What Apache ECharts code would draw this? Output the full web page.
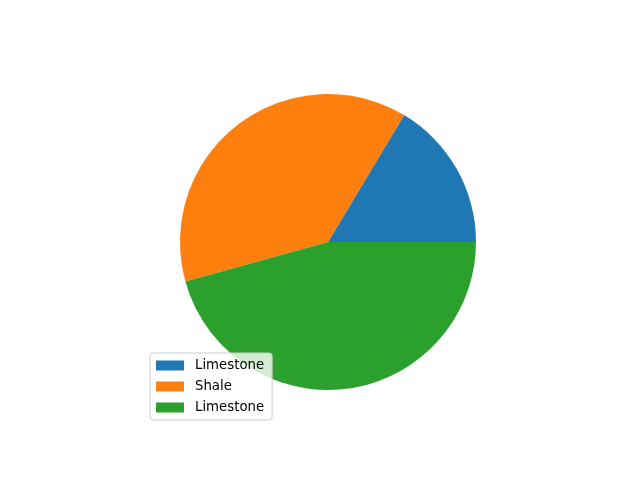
<!DOCTYPE html>
<html><head><meta charset="utf-8">
<script src="https://cdn.jsdelivr.net/npm/echarts@6/dist/echarts.min.js"></script>
<style>html,body{margin:0;padding:0;background:#fff}#c{width:640px;height:480px}</style>
</head><body><div id="c"></div>
<script>
const labels = ["Limestone", "Shale", "Limestone"];
const values = [16.4, 37.9, 45.7];
const colors = ["#1f77b4", "#ff7f0e", "#2ca02c"];

const keys = labels.map((l, i) => l + "#" + i);
const chart = echarts.init(document.getElementById('c'), null, {renderer: 'canvas'});
chart.setOption({
  animation: false,
  backgroundColor: '#ffffff',
  legend: {
    orient: 'vertical',
    left: 150, top: 353,
    data: keys,
    formatter: n => n.split('#')[0],
    icon: 'rect',
    itemWidth: 28, itemHeight: 10, itemGap: 8,
    padding: [6, 8, 6, 6],
    backgroundColor: 'rgba(255,255,255,0.8)',
    borderColor: '#cccccc', borderWidth: 1, borderRadius: 3,
    textStyle: {fontFamily: 'DejaVu Sans', fontSize: 13.3, color: '#000', padding: [0, 0, 0, 6]},
    z: 10
  },
  series: [{
    type: 'pie',
    center: [328, 242],
    radius: [0, 148],
    startAngle: 0,
    clockwise: false,
    label: {show: false},
    labelLine: {show: false},
    emphasis: {disabled: true},
    itemStyle: {borderWidth: 0},
    data: keys.map((k, i) => ({name: k, value: values[i], itemStyle: {color: colors[i]}}))
  }]
});
</script></body></html>
